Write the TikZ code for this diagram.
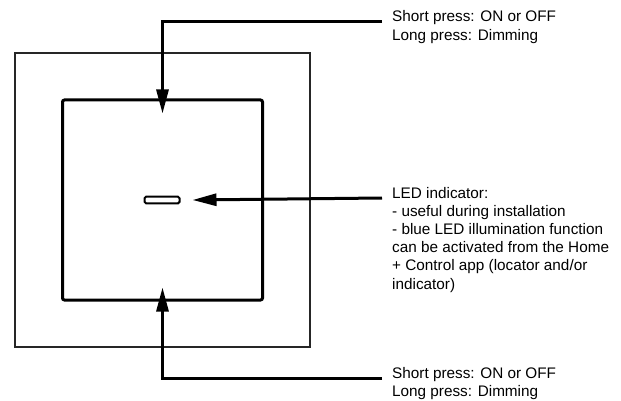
\documentclass[tikz,border=0pt]{standalone}
\usepackage{fontspec}
\setmainfont{Liberation Sans}
\usetikzlibrary{arrows.meta}

\begin{document}
\begin{tikzpicture}[
  x=1pt, y=-1pt,
  >={Triangle[length=24pt,width=12pt]},
  callout/.style={line width=3pt},
  note/.style={anchor=base west, inner sep=0pt, align=left,
    font=\fontsize{15.3}{18.2}\selectfont}
]
  \useasboundingbox (0,0) rectangle (621,401);

  % Switch frame, rocker plate and the LED slot.
  \node[draw=black!85, line width=1.3pt, minimum width=295pt, minimum height=294pt] (frame) at (162.5,200) {};
  \node[draw, line width=3pt, rounded corners=2pt, minimum size=200pt] (plate) at (162.5,200) {};
  \node[draw, line width=2pt, rounded corners=1.5pt, minimum width=35pt, minimum height=5pt] (led) at (162,200) {};

  % Callout texts (placed by the baseline of their last line).
  \coordinate (topend) at (382,22);
  \coordinate (ledend) at (382,198);
  \coordinate (bottomend) at (382,378);
  \node[note] (pressTop) at (392,40.2) {Short press: ON or OFF\\Long press: Dimming};
  \node[note] (ledText) at (392,289) {LED indicator:\\- useful during installation\\- blue LED illumination function\\can be activated from the Home\\+ Control app (locator and/or\\indicator)};
  \node[note] (pressBottom) at (392,396.2) {Short press: ON or OFF\\Long press: Dimming};

  \draw[callout,->] (topend) -| ([yshift=-15pt]plate.north);
  \draw[callout,->] (ledend) -- ([xshift=12pt]led.east);
  \draw[callout,->] (bottomend) -| ([yshift=14pt]plate.south);
\end{tikzpicture}
\end{document}
